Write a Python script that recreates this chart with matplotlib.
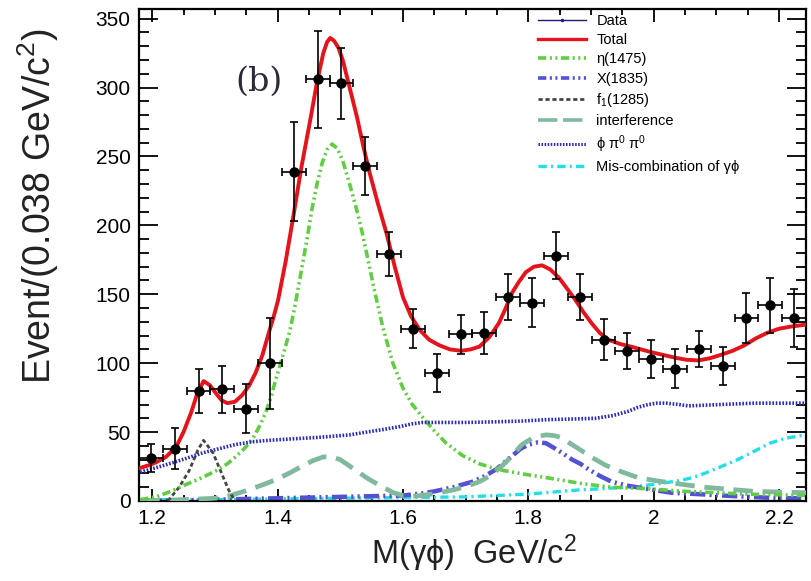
"""
M(gamma phi) fit projection, panel (b).
"""
import matplotlib
matplotlib.use("Agg")
import matplotlib.pyplot as plt
from matplotlib.lines import Line2D

plt.rcParams['font.family'] = ['Liberation Sans', 'DejaVu Sans']
plt.rcParams['mathtext.fontset'] = 'custom'
plt.rcParams['mathtext.rm'] = 'Liberation Sans'
plt.rcParams['mathtext.it'] = 'Liberation Sans:italic'
plt.rcParams['lines.scale_dashes'] = False

# data points (bin width 0.038 GeV/c^2)
mass = [1.198, 1.236, 1.274, 1.312, 1.350, 1.388, 1.426, 1.464, 1.502, 1.540,
        1.578, 1.616, 1.654, 1.692, 1.730, 1.768, 1.806, 1.844, 1.882, 1.920,
        1.958, 1.996, 2.034, 2.072, 2.110, 2.148, 2.186, 2.224]
events = [31, 38, 80, 81, 67, 100, 239, 306, 303, 243,
          179, 125, 93, 121, 122, 148, 144, 178, 148, 117,
          109, 103, 96, 110, 98, 133, 142, 133]
events_err = [10, 15, 16, 17, 18, 33, 36, 35, 26, 21,
              16, 14, 14, 14, 15, 17, 18, 17, 17, 15,
              13, 14, 14, 13, 14, 18, 20, 21]
half_bin = 0.019

# fit curves
total_x = [1.181, 1.195, 1.206, 1.222, 1.238, 1.250, 1.262, 1.272, 1.282, 1.292,
           1.302, 1.311, 1.320, 1.332, 1.344, 1.355, 1.365, 1.376, 1.386, 1.394,
           1.401, 1.413, 1.425, 1.438, 1.452, 1.463, 1.473, 1.479, 1.484, 1.490,
           1.497, 1.504, 1.515, 1.527, 1.537, 1.547, 1.560, 1.574, 1.587, 1.600,
           1.613, 1.627, 1.642, 1.658, 1.675, 1.693, 1.708, 1.722, 1.738, 1.753,
           1.764, 1.774, 1.785, 1.796, 1.809, 1.822, 1.835, 1.849, 1.862, 1.875,
           1.888, 1.901, 1.914, 1.928, 1.946, 1.964, 1.980, 1.996, 2.015, 2.034,
           2.052, 2.071, 2.089, 2.107, 2.126, 2.145, 2.163, 2.181, 2.200, 2.218, 2.243]
total_y = [24, 26, 28, 32, 39, 50, 64, 78, 87, 84,
           78, 73, 71, 72, 77, 84, 93, 106, 122, 134,
           146, 174, 206, 242, 276, 304, 325, 333, 336, 334,
           329, 320, 300, 278, 257, 238, 216, 194, 170, 148,
           134, 124, 117, 113, 110, 109, 110, 112, 119, 129,
           140, 151, 159, 166, 170, 171, 168, 162, 154, 146,
           137, 129, 122, 117, 114, 112, 110, 108, 106, 104,
           102.5, 102, 103.5, 106, 109, 113, 118, 122, 125, 126.5, 128]

eta_x = [1.181, 1.206, 1.230, 1.254, 1.280, 1.302, 1.320, 1.333, 1.347, 1.360,
         1.371, 1.381, 1.390, 1.397, 1.405, 1.412, 1.420, 1.428, 1.436, 1.447,
         1.455, 1.463, 1.471, 1.479, 1.487, 1.495, 1.504, 1.515, 1.527, 1.535,
         1.542, 1.555, 1.568, 1.584, 1.600, 1.615, 1.631, 1.650, 1.669, 1.695,
         1.722, 1.750, 1.774, 1.800, 1.828, 1.855, 1.880, 1.905, 1.933, 1.960,
         1.986, 2.050, 2.150, 2.243]
eta_y = [1, 3, 7, 12, 17, 22, 27, 32, 38, 45,
         54, 64, 76, 88, 100, 111, 124, 142, 162, 190,
         212, 230, 245, 255, 259, 256, 247, 230, 210, 195,
         180, 152, 126, 100, 82, 70, 61, 51, 42, 33,
         27, 23, 21, 19, 17, 15, 13, 11.5, 10, 9.5,
         9, 7, 5, 4]

x1835_x = [1.181, 1.300, 1.400, 1.500, 1.600, 1.630, 1.650, 1.680, 1.711, 1.730,
           1.749, 1.762, 1.775, 1.788, 1.801, 1.815, 1.828, 1.843, 1.857, 1.870,
           1.883, 1.896, 1.915, 1.933, 1.960, 1.986, 2.028, 2.070, 2.107, 2.200, 2.243]
x1835_y = [0, 1, 2, 3, 4, 5.5, 7, 10, 14, 18,
           23, 28, 33, 38, 41, 42.5, 42, 38, 34, 30,
           27, 23, 18, 14, 11, 9, 6, 5, 4, 2, 2]

f1_x = [1.225, 1.243, 1.259, 1.273, 1.282, 1.297, 1.309, 1.322, 1.332]
f1_y = [0, 10, 22, 37, 44, 35, 22, 8, 0]

interf_x = [1.181, 1.250, 1.300, 1.325, 1.350, 1.378, 1.400, 1.420, 1.438, 1.455,
            1.473, 1.487, 1.500, 1.513, 1.527, 1.545, 1.568, 1.585, 1.600, 1.615,
            1.630, 1.645, 1.658, 1.680, 1.701, 1.722, 1.742, 1.764, 1.778, 1.790,
            1.808, 1.828, 1.841, 1.853, 1.866, 1.880, 1.900, 1.923, 1.950, 1.975,
            2.000, 2.030, 2.055, 2.081, 2.120, 2.161, 2.243]
interf_y = [0, 1, 2, 4, 7.5, 12, 16, 20.5, 25, 29,
            32, 32, 30, 26, 21.5, 16, 10, 6, 4, 3.5,
            4, 5, 6, 8, 10.5, 14, 19, 28, 35, 41,
            46, 48, 47.5, 46, 42, 38, 32, 26, 21, 17,
            15, 13, 11.5, 10, 8.5, 7, 6]

phipipi_x = [1.181, 1.205, 1.227, 1.255, 1.281, 1.307, 1.333, 1.360, 1.386, 1.420,
             1.460, 1.489, 1.515, 1.542, 1.570, 1.595, 1.615, 1.631, 1.660, 1.700,
             1.753, 1.790, 1.828, 1.870, 1.907, 1.935, 1.959, 1.975, 1.991, 2.005,
             2.020, 2.040, 2.055, 2.080, 2.107, 2.161, 2.243]
phipipi_y = [21, 24, 27, 31, 35, 38, 41, 43, 44, 45,
             46, 47, 48, 50, 52, 54, 56, 57, 57, 57,
             57.5, 58, 59, 59.5, 60, 62, 65, 68, 70, 71,
             71, 70, 69, 69.5, 70, 71, 71]

miscomb_x = [1.181, 1.300, 1.500, 1.700, 1.800, 1.840, 1.880, 1.920, 1.959, 2.000,
             2.022, 2.044, 2.062, 2.081, 2.108, 2.134, 2.160, 2.186, 2.210, 2.243]
miscomb_y = [1, 1, 2, 3, 5, 6.5, 8, 9, 10, 12,
             13.5, 15, 17, 20, 25, 30, 36, 42, 45.5, 48]

x_ticks = [1.2, 1.4, 1.6, 1.8, 2.0, 2.2]
x_tick_labels = ['1.2', '1.4', '1.6', '1.8', '2', '2.2']
y_ticks = [0, 50, 100, 150, 200, 250, 300, 350]

fig = plt.figure(figsize=(8.11, 5.81), dpi=100)
ax = fig.add_axes([139 / 811, 80 / 581, 667 / 811, 492 / 581])

ax.plot(miscomb_x, miscomb_y, color='#25dde6', lw=2.4, dashes=(6, 3, 1.5, 3), zorder=2)
ax.plot(x1835_x, x1835_y, color='#5252d2', lw=3.2, dashes=(11, 3, 1.5, 3, 1.5, 3), zorder=2)
ax.plot(interf_x, interf_y, color='#80b99d', lw=3.4, dashes=(14, 7), zorder=3)
ax.plot(f1_x, f1_y, color='#454545', lw=2.0, dashes=(3, 2), zorder=3)
ax.plot(eta_x, eta_y, color='#62cc45', lw=2.6, dashes=(6, 2.5, 1.5, 2.5, 1.5, 2.5), zorder=3)
ax.plot(phipipi_x, phipipi_y, color='#2b2bb5', lw=2.6, dashes=(1.2, 1.2), zorder=3)
ax.plot(total_x, total_y, color='#e3141c', lw=2.8, zorder=4)

ax.errorbar(mass, events, yerr=events_err, xerr=half_bin, fmt='o', color='black',
            ms=6.5, elinewidth=1.2, capsize=3, capthick=1.2, zorder=5)

ax.set_xlim(1.179, 2.243)
ax.set_ylim(0, 357)
ax.set_xticks(x_ticks)
ax.set_xticklabels(x_tick_labels)
ax.set_xticks([1.2 + 0.05 * i for i in range(21) if i % 4], minor=True)
ax.set_yticks(y_ticks)
ax.set_yticks([v for v in range(0, 360, 10) if v % 50], minor=True)
ax.tick_params(which='both', direction='in', top=True, right=True,
               width=1.3, labelsize=15, colors='black')
ax.tick_params(axis='x', which='major', length=9, pad=6)
ax.tick_params(axis='x', which='minor', length=4.5)
ax.tick_params(axis='y', which='major', length=14, pad=6)
ax.tick_params(axis='y', which='minor', length=7.5)
for sp in ax.spines.values():
    sp.set_linewidth(1.6)

fig.text(38 / 811, 1 - 206 / 581, 'Event/(0.038 GeV/c$^2$)', rotation=90,
         ha='center', va='center', fontsize=27, color='#222222')
fig.text(474 / 811, 1 - 553 / 581, 'M(γϕ)  GeV/c$^2$', ha='center', va='center',
         fontsize=23.5, color='#222222')
ax.text(259 / 811, 1 - 82 / 581, '(b)', transform=fig.transFigure, ha='center',
        va='center', fontsize=24, family='DejaVu Serif', color='#2a2a3a')

handles = [
    Line2D([], [], color='#1c1c70', lw=1.0, marker='.', ms=3),
    Line2D([], [], color='#e3141c', lw=2.4),
    Line2D([], [], color='#62cc45', lw=2.6, dashes=(6, 2.5, 1.5, 2.5, 1.5, 2.5)),
    Line2D([], [], color='#5252d2', lw=2.6, dashes=(6, 2.5, 1.5, 2.5, 1.5, 2.5)),
    Line2D([], [], color='#454545', lw=2.0, dashes=(3, 2)),
    Line2D([], [], color='#80b99d', lw=2.6, dashes=(14, 4)),
    Line2D([], [], color='#2b2bb5', lw=2.2, dashes=(1.1, 1.1)),
    Line2D([], [], color='#25dde6', lw=2.4, dashes=(6, 3, 1.5, 3)),
]
labels = ['Data', 'Total', 'η(1475)', 'X(1835)', 'f$_1$(1285)', 'interference',
          'ϕ π$^0$ π$^0$', 'Mis-combination of γϕ']
ax.legend(handles, labels, loc='upper left', bbox_to_anchor=(538 / 811, 1 - 14 / 581),
          bbox_transform=fig.transFigure, frameon=False, fontsize=10.5,
          handlelength=3.3, handletextpad=0.7, labelspacing=0.36,
          borderpad=0, borderaxespad=0)

fig.savefig('out.png', dpi=100)
plt.close(fig)
